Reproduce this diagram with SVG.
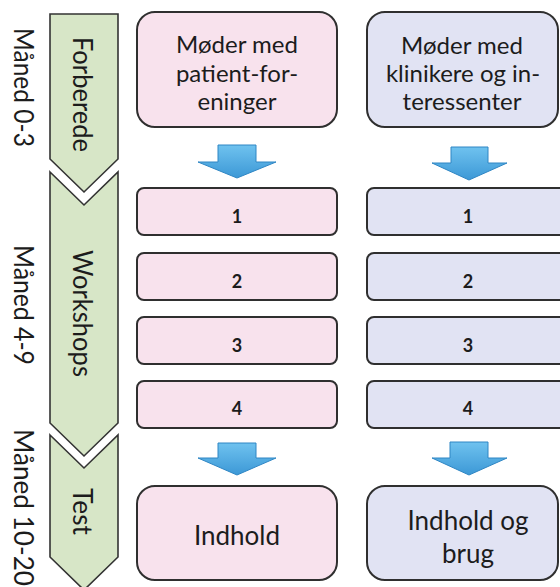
<svg xmlns="http://www.w3.org/2000/svg" width="560" height="587" viewBox="0 0 560 587">
  <defs>
    <linearGradient id="arrowFill" x1="0" y1="0" x2="0" y2="1">
      <stop offset="0" stop-color="#6fc2ef"/>
      <stop offset="1" stop-color="#3c98d6"/>
    </linearGradient>
    <style>
      .phase { fill: #d7e6c7; stroke: #333333; stroke-width: 1.6; stroke-linejoin: miter; }
      .pink { fill: #f8e2ed; stroke: #2f2f2f; stroke-width: 2; }
      .blue { fill: #e1e3f3; stroke: #2f2f2f; stroke-width: 2; }
      .arrow { fill: url(#arrowFill); stroke: #2f86c4; stroke-width: 1; stroke-linejoin: miter; }
      text { font-family: Lato, "Open Sans", "Liberation Sans", sans-serif; fill: #1c1c1c; }
      .big { font-size: 24px; text-anchor: middle; }
      .end { font-size: 26px; text-anchor: middle; }
      .num { font-size: 18px; font-weight: bold; text-anchor: middle; }
      .vert { font-size: 26px; }
    </style>
  </defs>

  <!-- month labels, read top to bottom -->
  <g id="months">
    <text class="vert" transform="translate(14,28) rotate(90)" textLength="119" lengthAdjust="spacingAndGlyphs">Måned 0-3</text>
    <text class="vert" transform="translate(14,245) rotate(90)" textLength="120" lengthAdjust="spacingAndGlyphs">Måned 4-9</text>
    <text class="vert" transform="translate(14,429) rotate(90)" textLength="157" lengthAdjust="spacingAndGlyphs">Måned 10-20</text>
  </g>

  <!-- phase chevrons -->
  <g id="phase-forberede">
    <path class="phase" d="M50,14 H118 V159 L84,192 L50,159 Z"/>
    <text class="vert" transform="translate(73,37) rotate(90)" textLength="115" lengthAdjust="spacingAndGlyphs">Forberede</text>
  </g>
  <g id="phase-workshops">
    <path class="phase" d="M50,172 L84,205 L118,172 V423 L84,456 L50,423 Z"/>
    <text class="vert" transform="translate(73,250) rotate(90)" textLength="127" lengthAdjust="spacingAndGlyphs">Workshops</text>
  </g>
  <g id="phase-test">
    <path class="phase" d="M50,435 L84,468 L118,435 V557 L84,590 L50,557 Z"/>
    <text class="vert" transform="translate(73,488) rotate(90)" textLength="47" lengthAdjust="spacingAndGlyphs">Test</text>
  </g>

  <!-- left column: patient organisations -->
  <g id="patient-meetings">
    <rect class="pink" x="137" y="12" width="200" height="115" rx="18"/>
    <text class="big" x="237" y="53">Møder med</text>
    <text class="big" x="237" y="82">patient-for-</text>
    <text class="big" x="237" y="110">eninger</text>
  </g>
  <g id="patient-ws1"><rect class="pink" x="137" y="188" width="200" height="47" rx="7"/><text class="num" x="237" y="223">1</text></g>
  <g id="patient-ws2"><rect class="pink" x="137" y="253" width="200" height="47" rx="7"/><text class="num" x="237" y="288">2</text></g>
  <g id="patient-ws3"><rect class="pink" x="137" y="317" width="200" height="47" rx="7"/><text class="num" x="237" y="352">3</text></g>
  <g id="patient-ws4"><rect class="pink" x="137" y="381" width="200" height="47" rx="7"/><text class="num" x="237" y="415">4</text></g>
  <g id="patient-result">
    <rect class="pink" x="137" y="486" width="200" height="94" rx="18"/>
    <text class="end" x="237" y="545">Indhold</text>
  </g>

  <!-- right column: clinicians and stakeholders -->
  <g id="clinician-meetings">
    <rect class="blue" x="367" y="12" width="191" height="115" rx="18"/>
    <text class="big" x="462" y="54">Møder med</text>
    <text class="big" x="463" y="82">klinikere og in-</text>
    <text class="big" x="462" y="110">teressenter</text>
  </g>
  <g id="clinician-ws1"><rect class="blue" x="367" y="188" width="210" height="47" rx="7"/><text class="num" x="468" y="223">1</text></g>
  <g id="clinician-ws2"><rect class="blue" x="367" y="253" width="210" height="47" rx="7"/><text class="num" x="468" y="288">2</text></g>
  <g id="clinician-ws3"><rect class="blue" x="367" y="317" width="210" height="47" rx="7"/><text class="num" x="468" y="352">3</text></g>
  <g id="clinician-ws4"><rect class="blue" x="367" y="381" width="210" height="47" rx="7"/><text class="num" x="468" y="415">4</text></g>
  <g id="clinician-result">
    <rect class="blue" x="367" y="486" width="191" height="94" rx="18"/>
    <text class="end" x="468" y="530">Indhold og</text>
    <text class="end" x="468" y="563">brug</text>
  </g>

  <!-- block arrows between stages -->
  <g id="connectors">
    <path class="arrow" d="M218,145 H256 V162 H276 L237,178 L198,162 H218 Z"/>
    <path class="arrow" d="M451,147 H488 V163 H507 L469,180 L432,163 H451 Z"/>
    <path class="arrow" d="M218,443 H256 V458 H276 L237,475 L198,458 H218 Z"/>
    <path class="arrow" d="M450,442 H488 V458 H507 L469,475 L432,458 H450 Z"/>
  </g>
</svg>
